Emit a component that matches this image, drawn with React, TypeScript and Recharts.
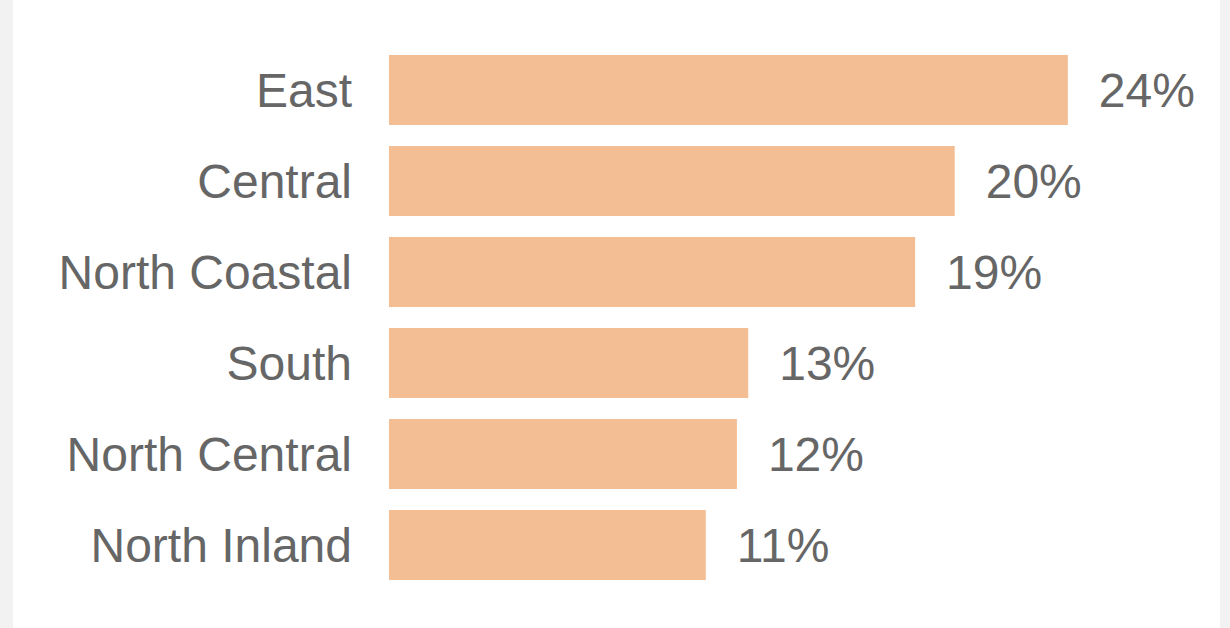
import React from 'react';
import { BarChart, Bar, XAxis, YAxis, LabelList } from 'recharts';

const regions = ['East', 'Central', 'North Coastal', 'South', 'North Central', 'North Inland'];
const shares = [24.0, 20.0, 18.6, 12.7, 12.3, 11.2];

const data = regions.map((name, i) => ({ name, value: shares[i] }));

const BAR_COLOR = '#F4BE94';
const TEXT_COLOR = '#666666';

export default function App() {
  return (
    <div style={{ position: 'absolute', left: 0, top: 0, width: 1230, height: 628, background: '#f2f2f2' }}>
      <div style={{ position: 'absolute', left: 13, top: 0, width: 1207, height: 628, background: '#ffffff' }} />
      <BarChart
        width={1230}
        height={628}
        data={data}
        layout="vertical"
        margin={{ top: 44.5, right: 49, bottom: 37.5, left: 0 }}
        barCategoryGap="11.5%"
        style={{ position: 'absolute', left: 0, top: 0, fontFamily: '"Liberation Sans", Arial, sans-serif' }}
      >
        <XAxis type="number" domain={[0, 28]} hide />
        <YAxis
          type="category"
          dataKey="name"
          width={389}
          axisLine={false}
          tickLine={false}
          tickMargin={31}
          tick={{ fill: TEXT_COLOR, fontSize: 48 }}
        />
        <Bar dataKey="value" fill={BAR_COLOR} isAnimationActive={false}>
          <LabelList
            dataKey="value"
            position="right"
            offset={31}
            fill={TEXT_COLOR}
            fontSize={48}
            formatter={(v: number) => `${Math.round(v)}%`}
          />
        </Bar>
      </BarChart>
    </div>
  );
}
